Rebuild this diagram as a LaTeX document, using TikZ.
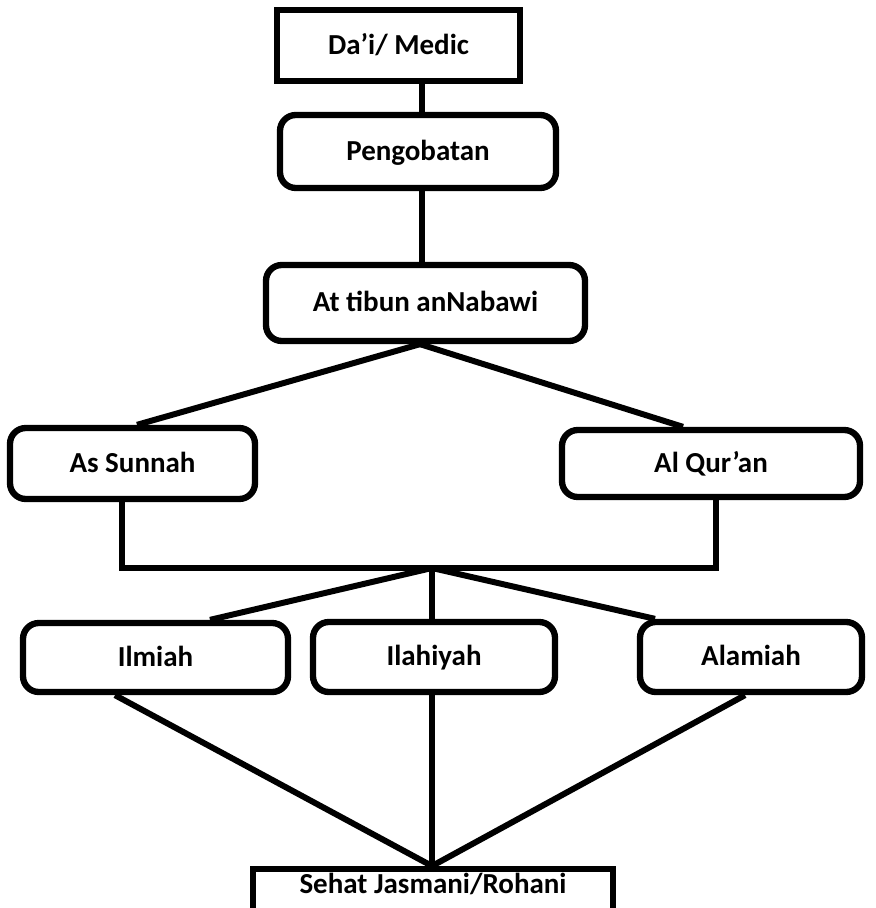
\documentclass[tikz,border=0pt]{standalone}
\usepackage{fontspec}
\setmainfont{Carlito}
\usetikzlibrary{positioning,calc}
\tikzset{
	plainbox/.style={draw=black,fill=white,line width=3.6pt,inner sep=0pt,
		text height=12.5pt,text depth=2.5pt,
		font=\fontsize{16.5}{19}\selectfont\bfseries,align=center},
	roundbox/.style={plainbox,rounded corners=9pt},
	link/.style={draw=black,line width=3.4pt},
}
\begin{document}
\begin{tikzpicture}[x=0.02cm,y=-0.02cm]
	\useasboundingbox (0,0) rectangle (875,908);
	\coordinate (jl) at (122,568);
	\coordinate (jr) at (716,568);
	\coordinate (j) at (432,568);
	\node[plainbox,minimum width=243*0.02cm,minimum height=71*0.02cm] (dai) at (398.5,45.5) {Da’i/ Medic};
	\node[roundbox,minimum width=276*0.02cm,minimum height=73*0.02cm] (peng) at (418,151.5) {Pengobatan};
	\node[roundbox,minimum width=319*0.02cm,minimum height=76*0.02cm] (tib) at (425.5,303) {At tibun anNabawi};
	\node[roundbox,minimum width=245*0.02cm,minimum height=71*0.02cm] (sun) at (132.5,463.5) {As Sunnah};
	\node[roundbox,minimum width=298*0.02cm,minimum height=67*0.02cm] (qur) at (711,463.5) {Al Qur’an};
	\node[roundbox,minimum width=265*0.02cm,minimum height=69*0.02cm] (ilm) at (155.5,657.5) {Ilmiah};
	\node[roundbox,minimum width=242*0.02cm,minimum height=70*0.02cm] (ila) at (434,657) {Ilahiyah};
	\node[roundbox,minimum width=222*0.02cm,minimum height=70*0.02cm] (ala) at (751,657) {Alamiah};
	\node[plainbox,minimum width=360*0.02cm,inner ysep=2*0.02cm,text depth=20pt,anchor=north] (seh) at (433,866) {Sehat Jasmani/Rohani};
	\draw[link] (dai.south -| 422,0) -- (peng.north -| 422,0);
	\draw[link] (peng.south -| 422,0) -- (tib.north -| 422,0);
	\draw[link] (tib.south -| 420,0) -- (sun.north -| 137,0);
	\draw[link] (tib.south -| 420,0) -- (qur.north -| 683,0);
	\draw[link] (sun.south -| jl) -- (jl) -- (jr) -- (qur.south -| jr);
	\draw[link] (j) -- (ilm.north -| 210,0);
	\draw[link] (j) -- (ila.north -| j);
	\draw[link] (j) -- (ala.north -| 655,0);
	\draw[link] (ilm.south -| 115,0) -- (seh.north -| j);
	\draw[link] (ila.south -| j) -- (seh.north -| j);
	\draw[link] (ala.south -| 745,0) -- (seh.north -| j);
\end{tikzpicture}
\end{document}
